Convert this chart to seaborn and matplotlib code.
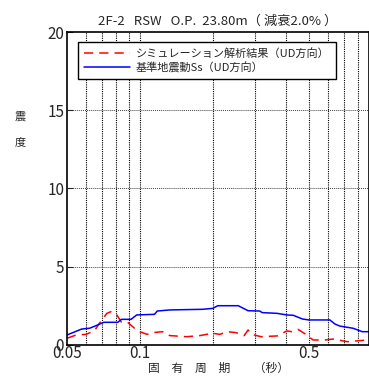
import numpy as np
import pandas as pd
import seaborn as sns
import matplotlib
matplotlib.use("Agg")
import matplotlib.pyplot as plt
from matplotlib.ticker import FixedLocator, NullFormatter

# periods (s) and seismic intensity
period_ss = [0.05, 0.0575, 0.062, 0.066, 0.071, 0.081, 0.084, 0.092, 0.097, 0.115, 0.118,
             0.133, 0.181, 0.20, 0.21, 0.255, 0.28, 0.313, 0.32, 0.37, 0.405, 0.43, 0.47,
             0.50, 0.61, 0.64, 0.67, 0.76, 0.83, 0.885]
value_ss = [0.64, 1.02, 1.07, 1.24, 1.45, 1.45, 1.64, 1.64, 1.92, 1.96, 2.17,
            2.24, 2.28, 2.34, 2.51, 2.51, 2.19, 2.17, 2.07, 2.02, 1.92, 1.90, 1.66,
            1.60, 1.60, 1.34, 1.21, 1.07, 0.85, 0.85]

period_sim = [0.05, 0.0546, 0.06, 0.065, 0.068, 0.073, 0.076, 0.08, 0.084, 0.089, 0.095,
              0.10, 0.107, 0.113, 0.124, 0.133, 0.156, 0.177, 0.20, 0.214, 0.23, 0.25,
              0.27, 0.28, 0.29, 0.317, 0.37, 0.405, 0.425, 0.45, 0.49, 0.52, 0.58,
              0.63, 0.72, 0.81, 0.885]
value_sim = [0.43, 0.64, 0.68, 0.92, 1.38, 2.02, 2.13, 1.96, 1.45, 1.45, 1.07,
             0.85, 0.68, 0.79, 0.85, 0.60, 0.53, 0.60, 0.75, 0.68, 0.85, 0.79,
             0.60, 0.96, 0.68, 0.53, 0.58, 0.90, 0.85, 1.00, 0.64, 0.32, 0.32,
             0.38, 0.21, 0.28, 0.32]

label_sim = "シミュレーション解析結果（UD方向）"
label_ss = "基準地震動Ss（UD方向）"
title = "2F-2   RSW   O.P.  23.80m（ 減衰2.0% ）"

sns.set_style("ticks")
plt.rcParams['font.family'] = ['Noto Sans CJK JP', 'DejaVu Sans']

df = pd.concat([
    pd.DataFrame({"T": period_sim, "v": value_sim, "s": label_sim}),
    pd.DataFrame({"T": period_ss, "v": value_ss, "s": label_ss}),
])

fig = plt.figure(figsize=(3.69, 3.81), dpi=100)
ax = fig.add_axes([0.1816, 0.0945, 0.8184, 0.8215])

sns.lineplot(data=df, x="T", y="v", hue="s", style="s",
             palette={label_sim: "#ff0000", label_ss: "#0000ff"},
             dashes={label_sim: (6, 4), label_ss: ""},
             linewidth=1.1, sort=False, estimator=None, ax=ax)

ax.set_xscale("log")
ax.set_xlim(0.05, 0.885)
ax.set_ylim(0, 20)

# grid: vertical lines at every log tick, horizontal at 5,10,15
vlines = [0.06, 0.07, 0.08, 0.09, 0.1, 0.2, 0.3, 0.4, 0.5, 0.6, 0.7, 0.8]
for v in vlines:
    ax.axvline(v, color="black", linestyle=(0, (1, 1)), linewidth=0.8, zorder=0)
for h in [5, 10, 15]:
    ax.axhline(h, color="#444444", linestyle=(0, (1, 1)), linewidth=0.7, zorder=0)

ax.xaxis.set_major_locator(FixedLocator([0.05, 0.1, 0.5]))
ax.xaxis.set_minor_locator(FixedLocator([]))
ax.xaxis.set_minor_formatter(NullFormatter())
ax.set_xticklabels(["0.05", "0.1", "0.5"])
ax.set_yticks([0, 5, 10, 15, 20])
ax.tick_params(axis="both", direction="in", length=4, width=0.8, labelsize=11, pad=2)
ax.tick_params(axis="x", length=0, pad=0)

for sp in ax.spines.values():
    sp.set_linewidth(1.2)
    sp.set_color("black")

ax.set_xlabel("固　有　周　期　　（秒）", fontsize=8.5, labelpad=0)
ax.set_ylabel("")
fig.text(0.054, 0.66, "震\n\n度", fontsize=8, ha="center", va="center", linespacing=1.35)
ax.set_title(title, fontsize=9.5, pad=5)

leg = ax.legend(loc="upper left", bbox_to_anchor=(0.035, 0.967), fontsize=8,
                frameon=True, fancybox=False, edgecolor="black", framealpha=1,
                handlelength=4.2, handletextpad=0.5, borderpad=0.55, labelspacing=0.25,
                borderaxespad=0)
leg.get_frame().set_linewidth(1.0)
leg.set_title(None)

fig.savefig("out.png", dpi=100)
